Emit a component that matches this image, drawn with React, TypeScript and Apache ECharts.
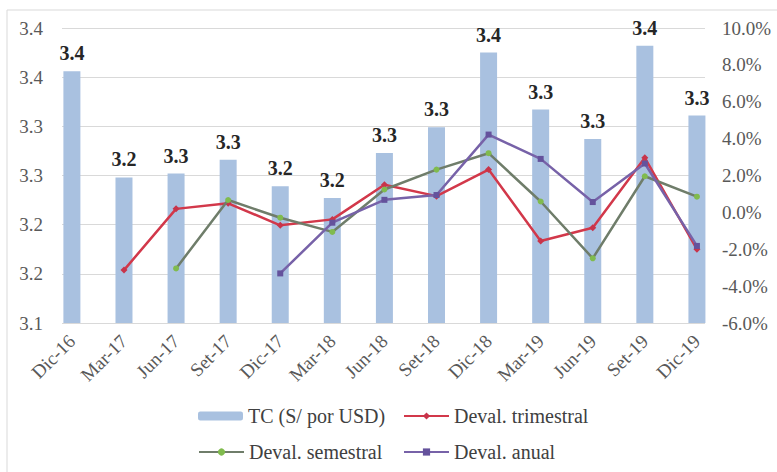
import React, { useEffect, useRef } from "react";
import * as echarts from "echarts";

// Quarterly exchange rate (S/ per USD) and its devaluation rates (%)
const categories = [
  "Dic-16", "Mar-17", "Jun-17", "Set-17", "Dic-17", "Mar-18", "Jun-18",
  "Set-18", "Dic-18", "Mar-19", "Jun-19", "Set-19", "Dic-19",
];
const tipoCambio = [
  3.356, 3.248, 3.252, 3.266, 3.239, 3.227, 3.273, 3.299, 3.375, 3.317, 3.287, 3.382, 3.311,
];
const devalTrimestral = [
  null, -3.13, 0.19, 0.49, -0.7, -0.38, 1.5, 0.88, 2.32, -1.55, -0.83, 2.96, -2.0,
];
const devalSemestral = [
  null, null, -3.04, 0.67, -0.29, -1.06, 1.24, 2.32, 3.21, 0.59, -2.49, 1.96, 0.85,
];
const devalAnual = [
  null, null, null, null, -3.31, -0.56, 0.68, 0.94, 4.22, 2.9, 0.56, 2.65, -1.82,
];

const seriesNames = ["TC (S/ por USD)", "Deval. trimestral", "Deval. semestral", "Deval. anual"];

const FONT = "Liberation Serif";
const round1 = (v: number) => (Math.round(v * 10 + 1e-9) / 10).toFixed(1);

// category index -> [index, value] pairs, skipping quarters without data
const toPairs = (arr: (number | null)[]) =>
  arr.map((v, i) => [i, v] as [number, number | null]).filter((p) => p[1] !== null);
const categoryIndexes = categories.map((_, i) => i);

export default function App() {
  const ref = useRef<HTMLDivElement>(null);

  useEffect(() => {
    if (!ref.current) return;
    const chart = echarts.init(ref.current, undefined, { renderer: "svg" });

    const legendBase = {
      itemWidth: 45,
      itemHeight: 9,
      textStyle: { fontFamily: FONT, fontSize: 20, color: "#404040" },
      selectedMode: false as const,
    };

    chart.setOption({
      animation: false,
      backgroundColor: "#ffffff",
      textStyle: { fontFamily: FONT },
      graphic: [
        {
          type: "rect",
          shape: { x: 7, y: 10, width: 800, height: 500 },
          style: { fill: "none", stroke: "#d9d9d9", lineWidth: 1 },
          silent: true,
        },
      ],
      grid: { left: 62, right: 72, top: 28, bottom: 149 },
      legend: [
        { ...legendBase, data: [seriesNames[0]], left: 193, top: 401 },
        { ...legendBase, data: [seriesNames[1]], left: 398, top: 401 },
        { ...legendBase, data: [seriesNames[2]], left: 193, top: 437 },
        { ...legendBase, data: [seriesNames[3]], left: 398, top: 437 },
      ],
      xAxis: {
        type: "value",
        min: -0.19,
        max: 12.155,
        axisLine: { show: false },
        axisTick: { show: false },
        splitLine: { show: false },
        axisLabel: {
          customValues: categoryIndexes,
          rotate: 45,
          margin: 15,
          fontFamily: FONT,
          fontSize: 19,
          color: "#595959",
          formatter: (v: number) => categories[Math.round(v)] ?? "",
        },
      },
      yAxis: [
        {
          type: "value",
          position: "left",
          min: 3.1,
          max: 3.4,
          interval: 0.05,
          axisLine: { show: false },
          axisTick: { show: false },
          splitLine: { show: true, lineStyle: { color: "#d9d9d9", width: 1 } },
          axisLabel: {
            margin: 19,
            fontFamily: FONT,
            fontSize: 19,
            color: "#595959",
            formatter: (v: number) => round1(v),
          },
        },
        {
          type: "value",
          position: "right",
          min: -6,
          max: 10,
          interval: 2,
          axisLine: { show: false },
          axisTick: { show: false },
          splitLine: { show: false },
          axisLabel: {
            margin: 17,
            fontFamily: FONT,
            fontSize: 19,
            color: "#595959",
            formatter: (v: number) => v.toFixed(1) + "%",
          },
        },
      ],
      series: [
        {
          name: seriesNames[0],
          type: "bar",
          yAxisIndex: 0,
          data: toPairs(tipoCambio),
          barWidth: 17,
          itemStyle: { color: "#a9c1e0" },
          label: {
            show: true,
            position: "top",
            distance: 8,
            fontFamily: FONT,
            fontSize: 20,
            fontWeight: "bold",
            color: "#262626",
            formatter: (p: any) => round1(p.value[1]),
          },
          z: 1,
        },
        {
          name: seriesNames[1],
          type: "line",
          yAxisIndex: 1,
          data: toPairs(devalTrimestral),
          symbol: "diamond",
          symbolSize: 7,
          lineStyle: { color: "#d2384a", width: 2.5 },
          itemStyle: { color: "#c8344a" },
          z: 3,
        },
        {
          name: seriesNames[2],
          type: "line",
          yAxisIndex: 1,
          data: toPairs(devalSemestral),
          symbol: "circle",
          symbolSize: 6,
          lineStyle: { color: "#6f7d6a", width: 2.5 },
          itemStyle: { color: "#80bb4e" },
          z: 4,
        },
        {
          name: seriesNames[3],
          type: "line",
          yAxisIndex: 1,
          data: toPairs(devalAnual),
          symbol: "rect",
          symbolSize: 6,
          lineStyle: { color: "#7762a8", width: 2.5 },
          itemStyle: { color: "#64529c" },
          z: 5,
        },
      ],
    });

    return () => chart.dispose();
  }, []);

  return (
    <div
      ref={ref}
      style={{ position: "fixed", left: 0, top: 0, width: 777, height: 472 }}
    />
  );
}
